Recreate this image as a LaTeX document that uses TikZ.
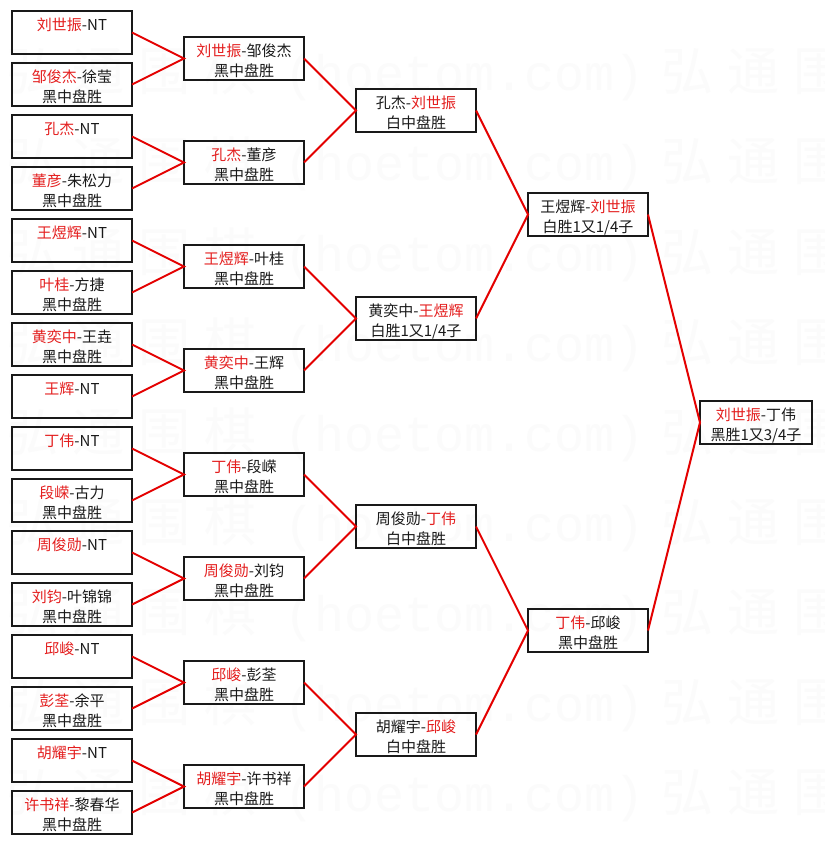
\documentclass[tikz,border=0pt]{standalone}
\usepackage{fontspec}
\setmainfont{Noto Sans CJK SC}
\newfontfamily\wmlat{Liberation Mono}
\definecolor{win}{RGB}{228,30,30}
\definecolor{ink}{RGB}{25,25,25}
\definecolor{linkred}{RGB}{228,0,0}
\definecolor{wmcol}{RGB}{251,251,251}
\newcommand\twol[2]{\vbox to 43pt{\offinterlineskip\vskip19.5pt\hbox to0pt{\hss\smash{#1}\hss}\vskip20pt\hbox to0pt{\hss\smash{#2}\hss}\vfill}}
\newcommand\W[1]{\textcolor{win}{#1}}
\newcommand\wmcj[1]{\makebox[66pt]{#1}}
\newcommand\wmrow{\wmcj{弘}\wmcj{通}\wmcj{围}\wmcj{棋}\hspace{21pt}{\wmlat\fontsize{50}{60}\selectfont (hoetom.com)}\hspace{10pt}\wmcj{弘}\wmcj{通}\wmcj{围}\wmcj{棋}}
\begin{document}
\begin{tikzpicture}[x=1pt,y=-1pt,
  box/.style={draw=ink, line width=1.9pt, rectangle, inner sep=0pt, outer sep=0pt,
    minimum width=120pt, minimum height=43pt, anchor=north west, text=ink,
    font=\fontsize{15}{20}\selectfont},
  narrowbox/.style={minimum width=112pt},
  conn/.style={draw=linkred, line width=2pt},
  wm/.style={anchor=base west, inner sep=0pt, text=wmcol, font=\fontsize{52}{60}\selectfont}]
\useasboundingbox (0,0) rectangle (824,845);
\fill[white] (0,0) rectangle (824,845);
\begin{scope}
\clip (0,0) rectangle (824,845);
\foreach \r in {0,...,8}{
  \node[wm] (wm\r) at (-1,{91+90*\r}) {\wmrow};
}
\end{scope}
% column 1
\node[box] (a1)  at (12,11)  {\twol{\W{刘世振}-NT}{}};
\node[box] (a2)  at (12,63)  {\twol{\W{邹俊杰}-徐莹}{黑中盘胜}};
\node[box] (a3)  at (12,115) {\twol{\W{孔杰}-NT}{}};
\node[box] (a4)  at (12,167) {\twol{\W{董彦}-朱松力}{黑中盘胜}};
\node[box] (a5)  at (12,219) {\twol{\W{王煜辉}-NT}{}};
\node[box] (a6)  at (12,271) {\twol{\W{叶桂}-方捷}{黑中盘胜}};
\node[box] (a7)  at (12,323) {\twol{\W{黄奕中}-王垚}{黑中盘胜}};
\node[box] (a8)  at (12,375) {\twol{\W{王辉}-NT}{}};
\node[box] (a9)  at (12,427) {\twol{\W{丁伟}-NT}{}};
\node[box] (a10) at (12,479) {\twol{\W{段嵘}-古力}{黑中盘胜}};
\node[box] (a11) at (12,531) {\twol{\W{周俊勋}-NT}{}};
\node[box] (a12) at (12,583) {\twol{\W{刘钧}-叶锦锦}{黑中盘胜}};
\node[box] (a13) at (12,635) {\twol{\W{邱峻}-NT}{}};
\node[box] (a14) at (12,687) {\twol{\W{彭荃}-余平}{黑中盘胜}};
\node[box] (a15) at (12,739) {\twol{\W{胡耀宇}-NT}{}};
\node[box] (a16) at (12,791) {\twol{\W{许书祥}-黎春华}{黑中盘胜}};
% column 2
\node[box] (b1) at (184,37)  {\twol{\W{刘世振}-邹俊杰}{黑中盘胜}};
\node[box] (b2) at (184,141) {\twol{\W{孔杰}-董彦}{黑中盘胜}};
\node[box] (b3) at (184,245) {\twol{\W{王煜辉}-叶桂}{黑中盘胜}};
\node[box] (b4) at (184,349) {\twol{\W{黄奕中}-王辉}{黑中盘胜}};
\node[box] (b5) at (184,453) {\twol{\W{丁伟}-段嵘}{黑中盘胜}};
\node[box] (b6) at (184,557) {\twol{\W{周俊勋}-刘钧}{黑中盘胜}};
\node[box] (b7) at (184,661) {\twol{\W{邱峻}-彭荃}{黑中盘胜}};
\node[box] (b8) at (184,765) {\twol{\W{胡耀宇}-许书祥}{黑中盘胜}};
% column 3
\node[box] (c1) at (356,89)  {\twol{孔杰-\W{刘世振}}{白中盘胜}};
\node[box] (c2) at (356,297) {\twol{黄奕中-\W{王煜辉}}{白胜1又1/4子}};
\node[box] (c3) at (356,505) {\twol{周俊勋-\W{丁伟}}{白中盘胜}};
\node[box] (c4) at (356,713) {\twol{胡耀宇-\W{邱峻}}{白中盘胜}};
% column 4
\node[box] (d1) at (528,193) {\twol{王煜辉-\W{刘世振}}{白胜1又1/4子}};
\node[box] (d2) at (528,609) {\twol{\W{丁伟}-邱峻}{黑中盘胜}};
% column 5
\node[box,narrowbox] (e1) at (700,401) {\twol{\W{刘世振}-丁伟}{黑胜1又3/4子}};
% connectors
\foreach \p/\x/\y in {b1/a1/a2,b2/a3/a4,b3/a5/a6,b4/a7/a8,b5/a9/a10,b6/a11/a12,b7/a13/a14,b8/a15/a16,
  c1/b1/b2,c2/b3/b4,c3/b5/b6,c4/b7/b8,d1/c1/c2,d2/c3/c4,e1/d1/d2}{
  \draw[conn] (\x.east) -- (\p.west) -- (\y.east);
}
\end{tikzpicture}
\end{document}
